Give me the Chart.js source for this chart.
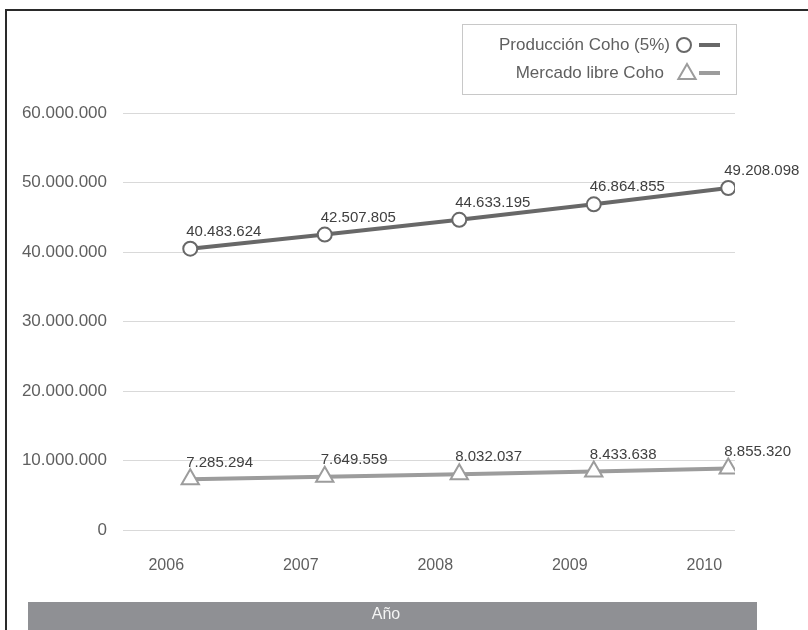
<!DOCTYPE html>
<html>
<head>
<meta charset="utf-8">
<script src="https://cdn.jsdelivr.net/npm/chart.js@4/dist/chart.umd.min.js"></script>
<style>
  html, body { margin: 0; padding: 0; background: #fff; }
  canvas { display: block; }
</style>
</head>
<body>
<canvas id="chart" width="808" height="630"></canvas>
<script>
'use strict';

// Datos
const YEARS = ['2006', '2007', '2008', '2009', '2010'];
const PRODUCCION = [40483624, 42507805, 44633195, 46864855, 49208098];
const MERCADO    = [7285294, 7649559, 8032037, 8433638, 8855320];
const SERIES_LABELS = ['Producción Coho (5%)', 'Mercado libre Coho'];
const AXIS_TITLE = 'Año';

const DARK  = '#686868';
const LIGHT = '#9c9c9c';
const TEXT  = '#5f5f5f';
const FONT  = "'Liberation Sans', Arial, sans-serif";

// 40483624 -> 40.483.624
const fmt = (n) => String(n).replace(/\B(?=(\d{3})+(?!\d))/g, '.');
const toXY = (arr) => arr.map((v, i) => ({ x: i, y: v }));

// Fondo, marco y barra del título del eje X
const framePlugin = {
  id: 'frame',
  beforeDraw(chart) {
    const c = chart.ctx;
    c.save();
    c.fillStyle = '#fff';
    c.fillRect(0, 0, chart.width, chart.height);
    c.strokeStyle = '#2a2a2a';
    c.lineWidth = 2;
    c.beginPath();
    c.moveTo(6, chart.height);
    c.lineTo(6, 10);
    c.lineTo(chart.width, 10);
    c.stroke();
    // barra gris del título
    c.fillStyle = '#8f9094';
    c.fillRect(28, 602, 729, 30);
    c.fillStyle = '#f4f4f4';
    c.font = '16px ' + FONT;
    c.textAlign = 'center';
    c.textBaseline = 'middle';
    c.fillText(AXIS_TITLE, 386, 615);
    c.restore();
  },
};

// Etiquetas de valor sobre cada punto
const labelsPlugin = {
  id: 'valueLabels',
  afterDatasetsDraw(chart) {
    const c = chart.ctx;
    c.save();
    c.font = '15px ' + FONT;
    c.fillStyle = '#404040';
    c.textAlign = 'left';
    c.textBaseline = 'middle';
    chart.data.datasets.forEach((ds, di) => {
      chart.getDatasetMeta(di).data.forEach((pt, i) => {
        c.fillText(fmt(ds.data[i].y), pt.x - 4, pt.y - 17);
      });
    });
    c.restore();
  },
};

// Leyenda con texto a la izquierda y marcador + línea a la derecha
const legendPlugin = {
  id: 'boxLegend',
  afterDraw(chart) {
    const c = chart.ctx;
    c.save();
    c.strokeStyle = '#c8c8c8';
    c.lineWidth = 1;
    c.strokeRect(462.5, 24.5, 274, 70);
    c.font = '17px ' + FONT;
    c.fillStyle = TEXT;
    c.textAlign = 'right';
    c.textBaseline = 'middle';
    const rows = [{ y: 45, mx: 684, tx: 670 }, { y: 73, mx: 687, tx: 664 }];
    chart.data.datasets.forEach((ds, di) => {
      const r = rows[di];
      c.fillText(ds.label, r.tx, r.y);
      c.strokeStyle = ds.borderColor;
      c.lineWidth = 4;
      c.beginPath();
      c.moveTo(699, r.y);
      c.lineTo(720, r.y);
      c.stroke();
      c.lineWidth = 2;
      c.fillStyle = '#fff';
      Chart.helpers.drawPoint(c, {
        pointStyle: ds.pointStyle, radius: di === 0 ? 7 : 10,
        borderWidth: 2, rotation: 0,
      }, r.mx, r.y + (di === 0 ? 0 : 1));
      c.fillStyle = TEXT;
    });
    c.restore();
  },
};

new Chart(document.getElementById('chart'), {
  type: 'line',
  data: {
    datasets: [
      {
        label: SERIES_LABELS[0],
        data: toXY(PRODUCCION),
        borderColor: DARK, borderWidth: 4,
        pointStyle: 'circle', pointRadius: 7,
        pointBackgroundColor: '#fff', pointBorderColor: DARK, pointBorderWidth: 2,
      },
      {
        label: SERIES_LABELS[1],
        data: toXY(MERCADO),
        borderColor: LIGHT, borderWidth: 4,
        pointStyle: 'triangle', pointRadius: 10,
        pointBackgroundColor: '#fff', pointBorderColor: LIGHT, pointBorderWidth: 2,
      },
    ],
  },
  options: {
    responsive: false, animation: false,
    layout: { padding: { left: 0, top: 113, right: 73, bottom: 28 } },
    plugins: { legend: { display: false }, tooltip: { enabled: false } },
    scales: {
      x: {
        type: 'linear', min: -0.5, max: 4.05,
        afterBuildTicks: (s) => { s.ticks = YEARS.map((_, i) => ({ value: i })); },
        afterFit: (s) => { s.height = 72; },
        grid: { display: false, drawTicks: false },
        border: { display: false },
        ticks: {
          callback: (v) => YEARS[v], labelOffset: -24, padding: 26,
          color: TEXT, font: { size: 16, family: FONT },
        },
      },
      y: {
        min: 0, max: 60000000,
        afterFit: (s) => { s.width = 123; },
        grid: { color: '#d9d9d9', lineWidth: 1, drawTicks: false },
        border: { display: false },
        ticks: {
          stepSize: 10000000, padding: 16,
          callback: (v) => fmt(v),
          color: TEXT, font: { size: 17, family: FONT },
        },
      },
    },
  },
  plugins: [framePlugin, labelsPlugin, legendPlugin],
});
</script>
</body>
</html>
